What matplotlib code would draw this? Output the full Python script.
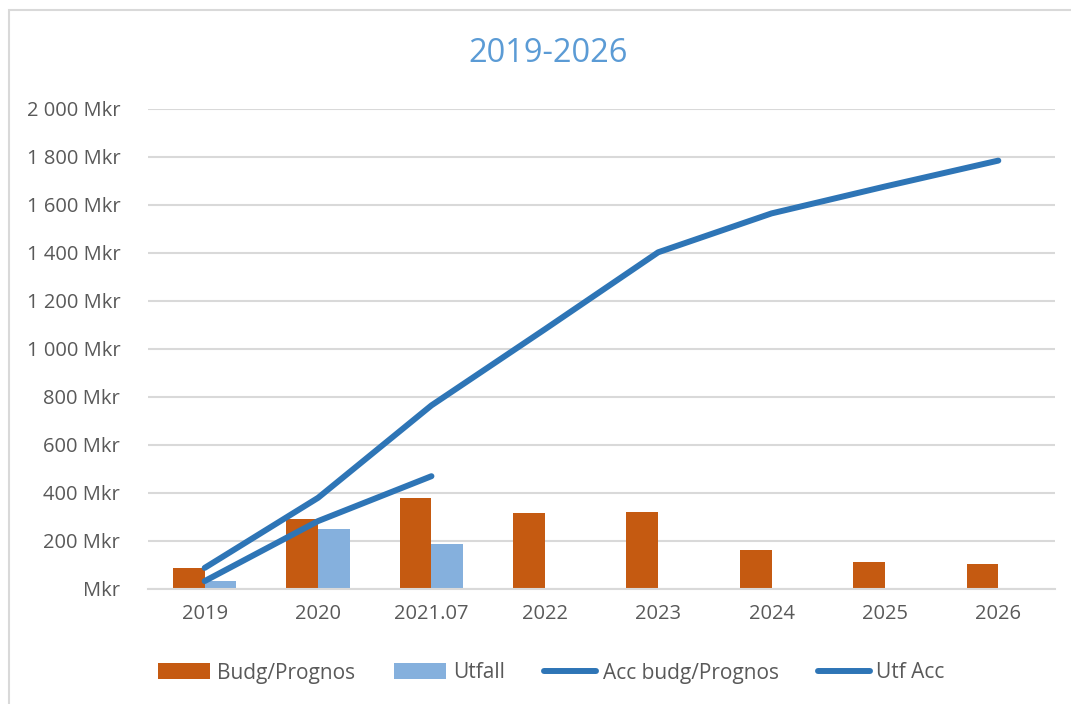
import numpy as np
import matplotlib
matplotlib.use("Agg")
import matplotlib.pyplot as plt
from matplotlib.patches import Rectangle

plt.rcParams['font.family'] = ['Open Sans', 'DejaVu Sans']

years = ["2019", "2020", "2021.07", "2022", "2023", "2024", "2025", "2026"]
budg = [88, 292, 380, 317, 321, 162, 112, 104]
utfall = [33, 250, 187]
acc_budg = [88, 380, 765, 1082, 1403, 1565, 1677, 1785]
utf_acc = [33, 283, 470]
yticks = [0, 200, 400, 600, 800, 1000, 1200, 1400, 1600, 1800, 2000]

orange = "#C55A11"
lightblue = "#85B0DD"
blue = "#2E75B6"
grey_txt = "#595959"

fig = plt.figure(figsize=(10.71, 7.04), dpi=100)
ax = fig.add_axes([148/1071, 1 - 589/704, (1055-148)/1071, (589-109)/704])

# frame of the embedded chart (left and top edges only visible)
fig.patches.append(Rectangle((9/1071, -0.2), 1.2, 1.2 - 10/704, transform=fig.transFigure,
                             fill=False, edgecolor="#D9D9D9", linewidth=1.5))

x = np.arange(len(years))
w = 0.28
bb = ax.bar(x - w/2, budg, w, color=orange, zorder=2)
bu = ax.bar(x[:len(utfall)] + w/2, utfall, w, color=lightblue, zorder=2)
la, = ax.plot(x, acc_budg, color=blue, lw=4.3, solid_capstyle="round", zorder=3)
lu, = ax.plot(x[:len(utf_acc)], utf_acc, color=blue, lw=4.3, solid_capstyle="round", zorder=3)

ax.set_xlim(-0.5, len(years) - 0.5)
ax.set_ylim(0, 2000)
ax.set_yticks(yticks)
ax.set_yticklabels([f"{v:,} Mkr".replace(",", " ") if v else "Mkr" for v in yticks])
ax.set_xticks(x)
ax.set_xticklabels(years)
ax.tick_params(length=0, labelsize=14.5, labelcolor=grey_txt, pad=11)
ax.tick_params(axis="y", pad=20)
ax.grid(axis="y", color="#D9D9D9", lw=1.5, zorder=0)
for s in ["top", "right", "left"]:
    ax.spines[s].set_visible(False)
ax.spines["bottom"].set_color("#D9D9D9")
ax.spines["bottom"].set_linewidth(1.5)

fig.text(0.512, 1 - 53/704, "2019-2026", ha="center", va="center", fontsize=23.5, color="#5B9BD5")

fig.legend([bb, bu, la, lu], ["Budg/Prognos", "Utfall", "Acc budg/Prognos", "Utf Acc"],
           loc="center", bbox_to_anchor=(0.515, 1 - 673/704), ncol=4, frameon=False,
           fontsize=15, labelcolor=grey_txt, handlelength=2.5, handleheight=0.8,
           columnspacing=1.9, handletextpad=0.3)

fig.savefig("out.png", dpi=100)
